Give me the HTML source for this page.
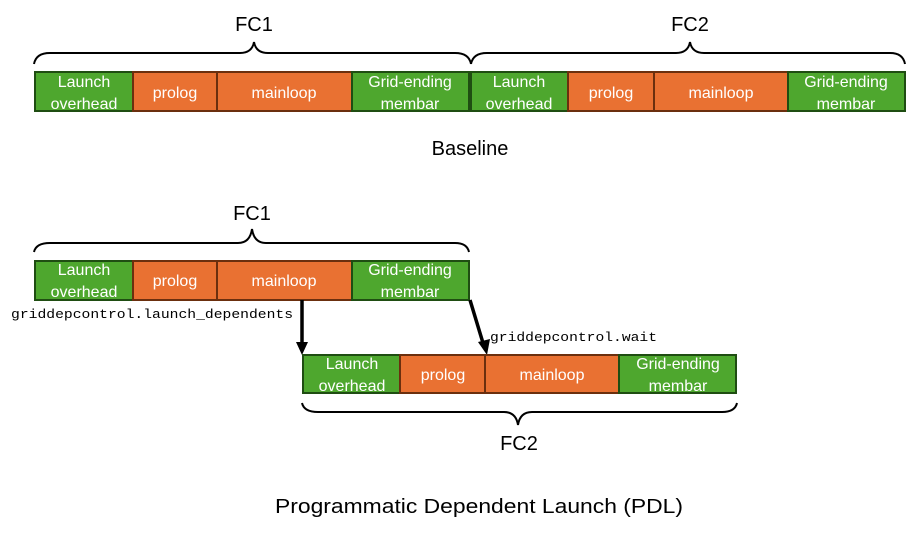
<!DOCTYPE html>
<html><head><meta charset="utf-8"><style>
html,body{margin:0;padding:0;background:#fff;}
svg{display:block;}
.t{font-family:"Liberation Sans",sans-serif;fill:#fff;font-size:16px;text-anchor:middle;}
.k{font-family:"Liberation Sans",sans-serif;fill:#000;font-size:20px;text-anchor:middle;}
.m{font-family:"Liberation Mono",monospace;fill:#000;font-size:13px;}
.g{fill:#4ea72e;stroke:#1f4d12;stroke-width:2;}
.o{fill:#e97132;stroke:#6b2f0e;stroke-width:2;}
.b{fill:none;stroke:#000;stroke-width:2;}
</style></head><body>
<svg width="921" height="534" viewBox="0 0 921 534" xmlns="http://www.w3.org/2000/svg">
<!-- Baseline -->
<text class="k" x="254" y="31">FC1</text>
<text class="k" x="690" y="31">FC2</text>
<path class="b" d="M34,64 Q36,53 50,53 L240,53 Q252,53 254,42 Q256,53 268,53 L455,53 Q469,53 471,64"/>
<path class="b" d="M471,64 Q473,53 487,53 L676,53 Q688,53 690,42 Q692,53 704,53 L890,53 Q903,53 905,64"/>
<g>
<rect class="g" x="35" y="72" width="98" height="39"/>
<rect class="o" x="133" y="72" width="84" height="39"/>
<rect class="o" x="217" y="72" width="135" height="39"/>
<rect class="g" x="352" y="72" width="117" height="39"/>
<rect class="g" x="471" y="72" width="97" height="39"/>
<rect class="o" x="568" y="72" width="86" height="39"/>
<rect class="o" x="654" y="72" width="134" height="39"/>
<rect class="g" x="788" y="72" width="117" height="39"/>
<text class="t" x="84" y="87">Launch</text><text class="t" x="84" y="109">overhead</text>
<text class="t" x="175" y="98">prolog</text>
<text class="t" x="284" y="98">mainloop</text>
<text class="t" x="410" y="87">Grid-ending</text><text class="t" x="410" y="109">membar</text>
<text class="t" x="519" y="87">Launch</text><text class="t" x="519" y="109">overhead</text>
<text class="t" x="611" y="98">prolog</text>
<text class="t" x="721" y="98">mainloop</text>
<text class="t" x="846" y="87">Grid-ending</text><text class="t" x="846" y="109">membar</text>
</g>
<text class="k" x="470" y="155">Baseline</text>
<!-- PDL -->
<text class="k" x="252" y="220">FC1</text>
<path class="b" d="M34,252 Q36,243 50,243 L238,243 Q250,243 252,229 Q254,243 266,243 L455,243 Q467,243 469,252"/>
<rect class="g" x="35" y="261" width="98" height="39"/>
<rect class="o" x="133" y="261" width="84" height="39"/>
<rect class="o" x="217" y="261" width="135" height="39"/>
<rect class="g" x="352" y="261" width="117" height="39"/>
<text class="t" x="84" y="275">Launch</text><text class="t" x="84" y="297">overhead</text>
<text class="t" x="175" y="286">prolog</text>
<text class="t" x="284" y="286">mainloop</text>
<text class="t" x="410" y="275">Grid-ending</text><text class="t" x="410" y="297">membar</text>
<line x1="302" y1="300" x2="302" y2="343" stroke="#000" stroke-width="3.5"/>
<polygon points="296,342 308,342 302,355" fill="#000"/>
<line x1="470" y1="300" x2="483" y2="343" stroke="#000" stroke-width="3.5"/>
<polygon points="478,342 490,339 487,355" fill="#000"/>
<text class="m" x="11" y="318" textLength="282" lengthAdjust="spacingAndGlyphs">griddepcontrol.launch_dependents</text>
<text class="m" x="490" y="341" textLength="167" lengthAdjust="spacingAndGlyphs">griddepcontrol.wait</text>
<rect class="g" x="303" y="355" width="97" height="38"/>
<rect class="o" x="400" y="355" width="85" height="38"/>
<rect class="o" x="485" y="355" width="134" height="38"/>
<rect class="g" x="619" y="355" width="117" height="38"/>
<text class="t" x="352" y="369">Launch</text><text class="t" x="352" y="391">overhead</text>
<text class="t" x="443" y="380">prolog</text>
<text class="t" x="552" y="380">mainloop</text>
<text class="t" x="678" y="369">Grid-ending</text><text class="t" x="678" y="391">membar</text>
<path class="b" d="M302,403 Q304,412 318,412 L504,412 Q516,412 518,425 Q520,412 532,412 L722,412 Q735,412 737,403"/>
<text class="k" x="519" y="450">FC2</text>
<text class="k" x="479" y="513" textLength="408" lengthAdjust="spacingAndGlyphs">Programmatic Dependent Launch (PDL)</text>
</svg>
</body></html>
